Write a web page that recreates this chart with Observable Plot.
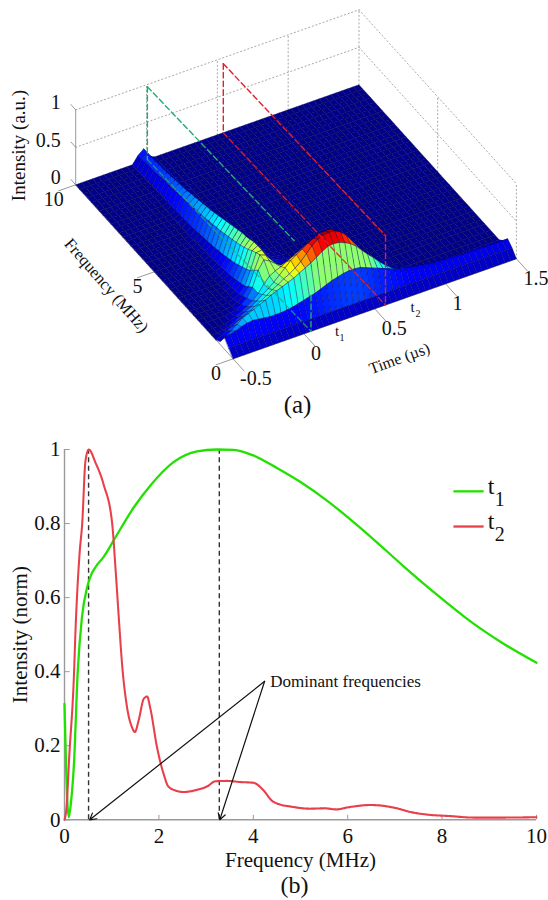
<!DOCTYPE html>
<html>
<head>
<meta charset="utf-8">
<script src="https://cdn.jsdelivr.net/npm/d3@7"></script>
<script src="https://cdn.jsdelivr.net/npm/@observablehq/plot@0.6"></script>
<style>
html,body{margin:0;padding:0;background:#fff;}
#chart{width:548px;height:900px;overflow:hidden;}
svg{display:block;}
</style>
</head>
<body>
<div id="chart"></div>
<script>
// ---------- Panel (a): surface grid ----------
const times = [-0.5,-0.46,-0.42,-0.38,-0.34,-0.3,-0.26,-0.22,-0.18,-0.14,-0.1,-0.06,-0.02,0.02,0.06,0.1,0.14,0.18,0.22,0.26,0.3,0.34,0.38,0.42,0.46,0.5,0.54,0.58,0.62,0.66,0.7,0.74,0.78,0.82,0.86,0.9,0.94,0.98,1.02,1.06,1.1,1.14,1.18,1.22,1.26,1.3,1.34,1.38,1.42,1.46,1.5];
const freqs = [0,0.27,0.55,0.82,1.1,1.37,1.64,2,2.25,2.5,2.75,3,3.25,3.5,3.75,4,4.25,4.5,4.75,5,5.25,5.5,5.75,6,6.25,6.5,6.75,7,7.25,7.5,7.75,8,8.25,8.5,8.75,9,9.25,9.5,9.75,10];
// first time index of each row's listed values; everything not listed is 0
const rowStart = [0,0,0,0,0,0,4,5,5,6,6,7,7,8,8,8,8,8,9,9,9,9,9,10,10,10,10,10,10,10,10,10,10,10,10,10,10,10,10,10];
const rowValues = [
 [],
 [.08,.08,.08,.08,.08,.08,.08,.08,.08,.08,.08,.08,.08,.08,.08,.08,.08,.08,.08,.08,.08,.08,.08,.08,.08,.08,.08,.08,.08,.08,.08,.08,.08,.08,.08,.08,.08,.08,.08,.08,.08,.08,.08,.08,.08,.08,.08,.08,.08,.08,.08],
 [.16,.17,.19,.22,.24,.25,.24,.23,.22,.22,.22,.23,.24,.26,.28,.30,.32,.35,.38,.41,.43,.45,.46,.46,.45,.42,.39,.36,.33,.30,.27,.25,.23,.21,.20,.19,.18,.17,.17,.16,.16,.16,.15,.15,.15,.15,.14,.14,.14,.14,.14],
 [.04,.08,.13,.19,.25,.28,.31,.35,.38,.42,.45,.48,.51,.54,.58,.62,.66,.71,.76,.80,.81,.80,.77,.73,.67,.59,.51,.44,.36,.29,.23,.18,.14,.11,.09,.08,.07,.06,.06,.06,.06,.05,.05,.05,.05,.05,.05,.05,.05,.05,.05],
 [0,.03,.07,.10,.15,.18,.22,.26,.30,.35,.40,.44,.49,.53,.58,.64,.72,.80,.86,.89,.90,.89,.85,.78,.68,.58,.47,.37,.28,.21,.14,.09,.06,.03,.02,.01],
 [0,0,.01,.03,.07,.11,.15,.19,.24,.30,.35,.41,.48,.55,.62,.67,.72,.77,.81,.84,.85,.85,.80,.73,.63,.51,.40,.29,.20,.13,.08,.05,.03,.01],
 [.02,.05,.09,.13,.18,.25,.35,.43,.47,.50,.54,.58,.62,.66,.70,.73,.74,.73,.69,.62,.52,.41,.30,.21,.14,.09,.05,.03,.01],
 [.01,.03,.07,.13,.25,.45,.56,.52,.46,.41,.39,.40,.43,.46,.47,.46,.43,.37,.29,.22,.15,.10,.06,.03,.01],
 [.01,.02,.05,.10,.20,.39,.57,.54,.45,.37,.32,.30,.31,.32,.31,.29,.25,.20,.15,.10,.07,.04,.02,.01],
 [.01,.03,.07,.15,.33,.54,.55,.44,.33,.26,.22,.21,.20,.17,.13,.09,.05,.03,.01],
 [.01,.02,.06,.13,.29,.51,.55,.43,.31,.22,.17,.14,.13,.10,.07,.05,.03,.01],
 [.02,.05,.11,.26,.47,.54,.43,.30,.20,.14,.11,.09,.06,.04,.02,.01],
 [.01,.04,.09,.23,.44,.52,.42,.28,.18,.11,.08,.06,.04,.02,.01],
 [.03,.08,.20,.41,.50,.42,.27,.16,.09,.06,.04,.02,.01],
 [.02,.07,.18,.39,.49,.40,.25,.13,.07,.04,.02,.01],
 [.02,.06,.16,.37,.47,.37,.22,.11,.05,.02,.01],
 [.01,.05,.14,.35,.45,.34,.19,.09,.03,.01],
 [.01,.04,.13,.33,.43,.31,.16,.07,.02,.01],
 [.03,.11,.31,.41,.28,.14,.05,.01],
 [.03,.10,.30,.39,.26,.12,.04,.01],
 [.02,.09,.28,.37,.24,.10,.03,.01],
 [.02,.08,.27,.35,.22,.09,.03,.01],
 [.01,.07,.25,.33,.20,.08,.02],
 [.06,.24,.32,.18,.07,.02],
 [.05,.23,.30,.16,.06,.02],
 [.05,.22,.29,.15,.05,.01],
 [.04,.21,.27,.13,.04,.01],
 [.04,.20,.26,.12,.04,.01],
 [.03,.19,.24,.11,.03],
 [.03,.18,.23,.10,.03],
 [.02,.17,.22,.09,.02],
 [.02,.16,.21,.08,.02],
 [.02,.16,.20,.07,.01],
 [.01,.15,.19,.07,.01],
 [.01,.14,.18,.06,.01],
 [0,.13,.18,.05,.01],
 [0,.13,.17,.05],
 [0,.12,.17,.04],
 [0,.11,.16,.04],
 [0,.10,.16,.03]
];
const timeTicks = [-0.5,0,0.5,1,1.5];
const freqTicks3d = [0,5,10];
const intensityTicks3d = [0,0.5,1];

// dashed traces (time, frequency, intensity)
const t1Upper = [[0.006,10,0.97],[0.046,1.03,0.97]];
const t1Lower = [[0.006,10,0],[0.05,0,0]];
const t1VerticalBack = [[0.006,10,0.97],[0.006,10,0]];
const t1VerticalFront = [[0.05,0,0.48],[0.05,0,0]];
const t2Upper = [[0.542,10,0.92],[0.576,0,0.925]];
const t2Lower = [[0.542,10,0],[0.576,0,0]];
const t2VerticalBack = [[0.542,10,0.92],[0.542,10,0]];
const t2VerticalFront = [[0.576,0,0.925],[0.576,0,0]];

// ---------- Panel (b): spectra ----------
const t1Freq = [0,0.03,0.06,0.09,0.14,0.2,0.28,0.37,0.48,0.56,0.655,0.83,1.08,1.47,1.82,2.31,2.81,3.23,3.58,4.0,4.5,5,5.56,6.48,7.19,7.89,8.6,9.31,10];
const t1Value = [0.313,0.16,0.05,0.007,0.05,0.15,0.40,0.547,0.628,0.66,0.682,0.71,0.763,0.844,0.903,0.966,0.995,1,0.999,0.984,0.95,0.912,0.862,0.765,0.684,0.608,0.536,0.475,0.424];
const t2Freq = [0,0.04,0.1,0.2,0.233,0.32,0.375,0.445,0.515,0.655,0.83,1.01,1.08,1.15,1.22,1.33,1.43,1.49,1.57,1.68,1.75,1.82,1.96,2.1,2.2,2.35,2.52,2.81,3.02,3.2,3.44,3.72,4.0,4.22,4.39,4.57,4.78,5.2,5.52,5.76,5.98,6.48,7.01,7.33,7.68,8.17,8.66,9.3,10];
const t2Value = [0,0.03,0.17,0.39,0.51,0.72,0.8,0.97,1,0.965,0.905,0.8,0.68,0.546,0.42,0.3,0.25,0.237,0.268,0.327,0.333,0.3,0.196,0.124,0.09,0.079,0.075,0.081,0.09,0.104,0.105,0.102,0.1,0.079,0.052,0.041,0.036,0.03,0.031,0.028,0.033,0.04,0.032,0.021,0.014,0.01,0.006,0.006,0.007];
const dominantFreqs = [0.51,3.28];
const arrowTargets = [0.535,3.29];
const arrowSource = {f:4.24,v:0.374};
const xTicks = [0,2,4,6,8,10];
const yTicks = [0,0.2,0.4,0.6,0.8,1];
const legendLines = [{name:"t",sub:"1",v:0.887,c:"#22e000"},{name:"t",sub:"2",v:0.792,c:"#e8404a"}];
const legendSpan = [8.24,8.88];

// ---------- Panel (a) drawing ----------
const FONT = "'Liberation Serif','Times New Roman',serif";
const proj = (t,f,z) => ({
  px: 232.6 + 141.65*(t+0.5) - 15.74*f,
  py: 358.3 - 50*(t+0.5) - 17.4*f - 75*z
});
const zAt = (i,j) => {
  const k = j - rowStart[i];
  const r = rowValues[i];
  return (k>=0 && k<r.length) ? r[k] : 0;
};
const cells = [];
let id = 0;
for (let i = freqs.length-2; i>=0; i--) {
  for (let j = times.length-2; j>=0; j--) {
    const a=zAt(i,j), b=zAt(i,j+1), c=zAt(i+1,j+1), d=zAt(i+1,j);
    const low=(a+b)/2, high=(c+d)/2, top=Math.max(a,b,c,d);
    let shade = low + 0.25*(high-low);
    if (i===0) shade = low + 0.8*(high-low);
    if (i===2) shade = Math.min(shade+0.05,0.49);
    if (i>=3 && i<7) shade = 0.5*low + 0.5*top;
    if (i>=7) shade = 0.8*(low+high)/2 + 0.2*top;
    const corner = [[times[j],freqs[i],a],[times[j+1],freqs[i],b],[times[j+1],freqs[i+1],c],[times[j],freqs[i+1],d]];
    for (const [t,f,z] of corner) cells.push({id,shade,...proj(t,f,z)});
    id++;
  }
}
const traceRows = (pts) => pts.map(([t,f,z]) => proj(t,f,z));
const gray = "#9a9a9a";
const dotted = (pts) => Plot.line(traceRows(pts),{x:"px",y:"py",stroke:"#a8a8a8",strokeWidth:1,strokeDasharray:"1.2 2.6"});
const solid = (pts) => Plot.line(traceRows(pts),{x:"px",y:"py",stroke:gray,strokeWidth:1});
const dashed = (pts,color,op=1) => Plot.line(traceRows(pts),{x:"px",y:"py",stroke:color,strokeWidth:1.4,strokeDasharray:"5.5 3.2",strokeOpacity:op});

const gridMarks = [];
for (const z of [0.5,1]) {
  gridMarks.push(dotted([[-0.5,10,z],[1.5,10,z]]));
  gridMarks.push(dotted([[1.5,10,z],[1.5,0,z]]));
}
for (const t of [0,0.5,1,1.5]) gridMarks.push(dotted([[t,10,0],[t,10,1]]));
for (const f of [0,5]) gridMarks.push(dotted([[1.5,f,0],[1.5,f,1]]));

const axisMarks = [
  solid([[-0.5,10,0],[-0.5,10,1]]),
  ...intensityTicks3d.map(z => solid([[-0.5,10,z],[-0.5,10.3,z]])),
  ...timeTicks.map(t => solid([[t,0,0],[t,-0.7,0]])),
  ...freqTicks3d.map(f => solid([[-0.5,f,0],[-0.62,f,0]])),
  solid([[-0.5,0,0],[1.5,0,0]]),
  solid([[-0.5,0,0],[-0.5,10,0]])
];

const panelA = Plot.plot({
  width:548,height:430,margin:0,
  x:{domain:[0,548],range:[0,548],axis:null},
  y:{domain:[0,430],range:[0,430],axis:null},
  color:{type:"linear",domain:[0,.118,.356,.594,.831,.95],range:["#00008a","#0000ff","#00ffff","#ffff00","#ff0000","#800000"]},
  style:{fontFamily:FONT,background:"transparent",color:"#111"},
  marks:[
    ...gridMarks,
    ...axisMarks,
    Plot.line(cells,{x:"px",y:"py",z:"id",fill:"shade",stroke:"#00004a",strokeWidth:0.38,curve:"linear-closed"}),
    dashed(t1VerticalBack,"#1fae72"),
    dashed(t2VerticalBack,"#e0202c"),
    dashed(t1Upper,"#1fae72"),
    dashed(t1Lower,"#1fae72",0.75),
    dashed(t1VerticalFront,"#1fae72"),
    dashed(t2Upper,"#e0202c"),
    dashed(t2Lower,"#e0202c",0.9),
    dashed(t2VerticalFront,"#e0202c"),
    Plot.text(intensityTicks3d,{x:z=>proj(-0.5,10,z).px,y:z=>proj(-0.5,10,z).py,text:d=>String(d),textAnchor:"end",dx:-15,dy:-7,fontSize:20,fill:"#111"}),
    Plot.text(freqTicks3d,{x:f=>proj(-0.5,f,0).px,y:f=>proj(-0.5,f,0).py,text:d=>String(d),textAnchor:"end",dx:-12,dy:15,fontSize:20,fill:"#111"}),
    Plot.text(timeTicks,{x:t=>proj(t,0,0).px,y:t=>proj(t,0,0).py,text:d=>String(d),textAnchor:"start",dx:7,dy:20,fontSize:20,fill:"#111"}),
    Plot.text(["Intensity (a.u.)"],{x:18,y:145,text:d=>d,rotate:-90,fontSize:19,fill:"#111"}),
    Plot.text(["Frequency (MHz)"],{x:106,y:285,text:d=>d,rotate:49,fontSize:16.5,fill:"#111"}),
    Plot.text(["Time (µs)"],{x:399,y:358,text:d=>d,rotate:-20,fontSize:16,fill:"#111"}),
    Plot.text(["t"],{x:336.5,y:331,text:d=>d,fontSize:15,fill:"#111"}),
    Plot.text(["1"],{x:341.5,y:337,text:d=>d,fontSize:10,fill:"#111"}),
    Plot.text(["t"],{x:412,y:307,text:d=>d,fontSize:15,fill:"#111"}),
    Plot.text(["2"],{x:417.5,y:313,text:d=>d,fontSize:10,fill:"#111"}),
    Plot.text(["(a)"],{x:297,y:404,text:d=>d,fontSize:25,fill:"#111"})
  ]
});

// ---------- Panel (b) drawing ----------
const t1Series = t1Freq.map((f,i)=>({f,v:t1Value[i]}));
const t2Series = t2Freq.map((f,i)=>({f,v:t2Value[i]}));
const panelB = Plot.plot({
  width:548,height:470,marginLeft:64,marginRight:12,marginTop:19,marginBottom:80.7,
  x:{domain:[0,10]},
  y:{domain:[0,1]},
  style:{fontFamily:FONT,background:"transparent",color:"#111"},
  marks:[
    Plot.axisX({ticks:xTicks,tickSize:0,tickPadding:8,fontSize:21,label:null,tickFormat:d=>String(d)}),
    Plot.axisY({ticks:yTicks,tickSize:0,tickPadding:4,fontSize:21,label:null,tickFormat:d=>String(d)}),
    Plot.ruleX(xTicks,{x:d=>d,y1:0,y2:0.012,stroke:gray,strokeWidth:1}),
    Plot.ruleY(yTicks,{y:d=>d,x1:0,x2:0.12,stroke:gray,strokeWidth:1}),
    Plot.ruleY([0],{stroke:gray,strokeWidth:1.4}),
    Plot.ruleX([0],{stroke:gray,strokeWidth:1.4}),
    Plot.ruleX(dominantFreqs,{y1:0,y2:1,stroke:"#333",strokeWidth:1.4,strokeDasharray:"5 3.5"}),
    Plot.line(t1Series,{x:"f",y:"v",stroke:"#22e000",strokeWidth:2.3,curve:"monotone-x"}),
    Plot.line(t2Series,{x:"f",y:"v",stroke:"#e8404a",strokeWidth:2.1,strokeDasharray:"1.4 0.7",curve:"monotone-x"}),
    Plot.arrow(arrowTargets,{x1:arrowSource.f,y1:arrowSource.v,x2:d=>d,y2:0,stroke:"#111",strokeWidth:1.2,headLength:9,bend:0}),
    Plot.text(["Dominant frequencies"],{x:4.36,y:0.374,text:d=>d,textAnchor:"start",fontSize:17,fill:"#111"}),
    Plot.link(legendLines,{x1:legendSpan[0],x2:legendSpan[1],y1:"v",y2:"v",stroke:"c",strokeWidth:2.3}),
    Plot.text(legendLines,{x:legendSpan[1],y:"v",text:"name",textAnchor:"start",dx:4,dy:-5,fontSize:24,fill:"#111"}),
    Plot.text(legendLines,{x:legendSpan[1],y:"v",text:"sub",textAnchor:"start",dx:11,dy:8,fontSize:20,fill:"#111"}),
    Plot.text(["Frequency (MHz)"],{frameAnchor:"bottom",lineAnchor:"middle",text:d=>d,dy:40,fontSize:21,fill:"#111"}),
    Plot.text(["Intensity (norm)"],{frameAnchor:"left",textAnchor:"middle",text:d=>d,rotate:-90,dx:-44,fontSize:21,fill:"#111"}),
    Plot.text(["(b)"],{frameAnchor:"bottom",lineAnchor:"middle",text:d=>d,dx:-6,dy:66,fontSize:24,fill:"#111"})
  ]
});
const root = document.getElementById("chart");
root.appendChild(panelA);
root.appendChild(panelB);
</script>
</body>
</html>
